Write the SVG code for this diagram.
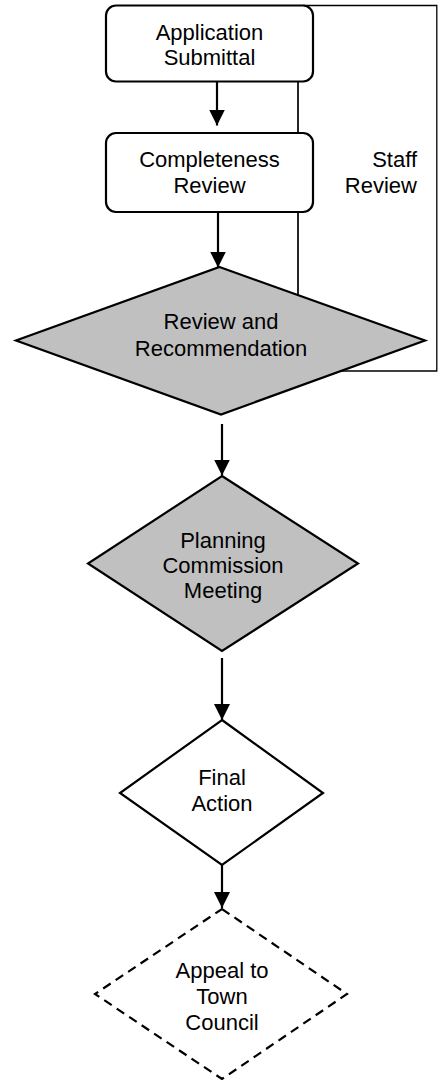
<svg xmlns="http://www.w3.org/2000/svg" width="444" height="1080" viewBox="0 0 444 1080">
<defs>
<style>
text{font-family:"Liberation Sans",Arial,sans-serif;font-size:22px;fill:#000;text-anchor:middle}
.shape{stroke:#000;stroke-width:2.2}
.box{fill:#fff}
.gray{fill:#c0c0c0}
.white{fill:#fff}
.dash{fill:#fff;stroke-dasharray:9 6}
.arrow{stroke:#000;stroke-width:2.2;fill:none;marker-end:url(#ah)}
.loop{stroke:#000;fill:none}
</style>
<marker id="ah" markerUnits="userSpaceOnUse" markerWidth="16" markerHeight="16" viewBox="0 0 16 16" refX="16" refY="8" orient="auto">
<path d="M0,0 L16,8 L0,16 Z" fill="#000"/>
</marker>
</defs>
<rect width="444" height="1080" fill="#fff"/>
<g id="connectors">
<path class="loop" stroke-width="1.3" d="M303,5.5 H436.8 V371 H340"/>
<path class="loop" stroke-width="1.7" d="M298,81 V133 M298,212 V295"/>
<line class="arrow" x1="217" y1="82" x2="217" y2="125.5"/>
<line class="arrow" x1="218" y1="213" x2="218" y2="267.5"/>
<line class="arrow" x1="222" y1="424" x2="222" y2="475.5"/>
<line class="arrow" x1="222" y1="658" x2="222" y2="720"/>
<line class="arrow" x1="222" y1="857" x2="222" y2="908"/>
</g>
<g id="n1">
<rect class="shape box" x="106" y="5.5" width="207" height="76" rx="10"/>
<text x="209.5" y="39.5">Application</text>
<text x="209.5" y="65">Submittal</text>
</g>
<g id="n2">
<rect class="shape box" x="106" y="133" width="207" height="79" rx="10"/>
<text x="209.5" y="167">Completeness</text>
<text x="209.5" y="193">Review</text>
</g>
<g id="lbl">
<text x="417" y="167" style="text-anchor:end">Staff</text>
<text x="417" y="193" style="text-anchor:end">Review</text>
</g>
<g id="n3">
<polygon class="shape gray" points="219.5,267 425,340.5 221,414.5 16,340.5"/>
<text x="221" y="329">Review and</text>
<text x="221" y="356">Recommendation</text>
</g>
<g id="n4">
<polygon class="shape gray" points="222,476 358,563.5 222,651 88,563.5"/>
<text x="223" y="548">Planning</text>
<text x="223" y="573">Commission</text>
<text x="223" y="598">Meeting</text>
</g>
<g id="n5">
<polygon class="shape white" points="222,720 323,793 222,865 120,793"/>
<text x="222" y="785">Final</text>
<text x="222" y="811">Action</text>
</g>
<g id="n6">
<polygon class="shape dash" points="222,909 347,994 222,1079 95,994"/>
<text x="222" y="978">Appeal to</text>
<text x="222" y="1004">Town</text>
<text x="222" y="1030">Council</text>
</g>
</svg>
